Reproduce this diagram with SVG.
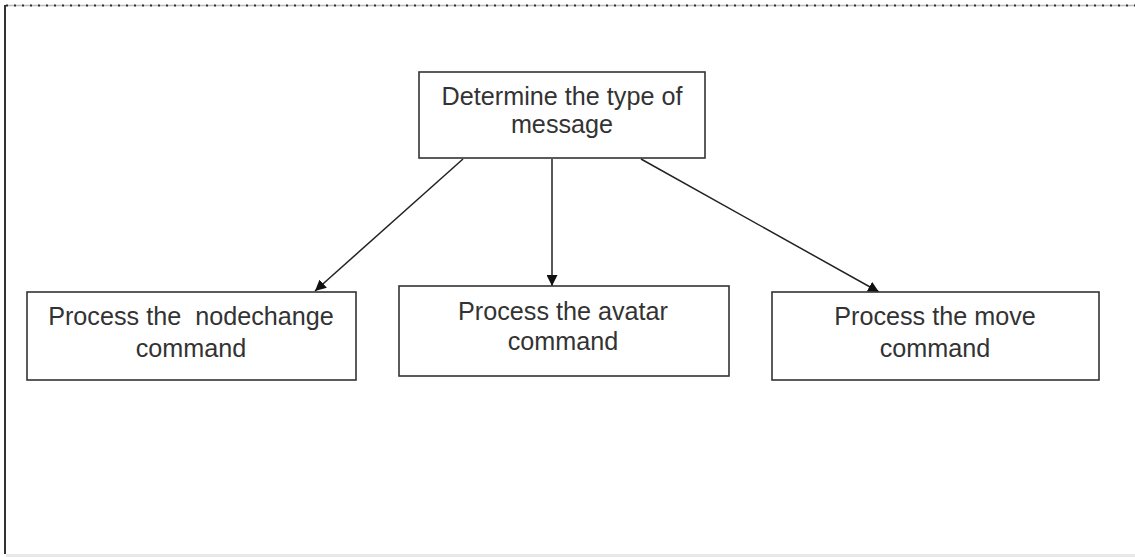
<svg xmlns="http://www.w3.org/2000/svg" width="1135" height="557" viewBox="0 0 1135 557">
  <defs>
    <marker id="arrow" viewBox="0 0 10 10" refX="10" refY="5" markerWidth="11" markerHeight="11" markerUnits="userSpaceOnUse" orient="auto">
      <path d="M0,0 L10,5 L0,10 z" fill="#111"/>
    </marker>
  </defs>
  <style>
    .box { fill: #fff; stroke: #333; stroke-width: 1.6; }
    .lbl { font-family: "Liberation Sans", Arial, sans-serif; font-size: 25.2px; fill: #333; text-anchor: middle; }
    .conn { stroke: #222; stroke-width: 1.5; fill: none; marker-end: url(#arrow); }
  </style>

  <rect width="1135" height="557" fill="#fff"/>

  <!-- page frame -->
  <g id="frame">
    <line x1="5" y1="5.5" x2="1135" y2="5.5" stroke="#bbb" stroke-width="1.5"/>
    <line x1="6" y1="5.5" x2="1135" y2="5.5" stroke="#333" stroke-width="2" stroke-dasharray="2 6"/>
    <line x1="5" y1="5" x2="5" y2="554" stroke="#333" stroke-width="2"/>
    <rect x="6" y="554" width="1129" height="3" fill="#e8e8e8"/>
  </g>

  <!-- connectors -->
  <g id="connectors">
    <line class="conn" x1="463" y1="159" x2="315" y2="291"/>
    <line class="conn" x1="552" y1="159" x2="552" y2="286"/>
    <line class="conn" x1="641" y1="159" x2="879" y2="292"/>
  </g>

  <g id="determine">
    <rect class="box" x="419" y="72" width="286" height="86"/>
    <text class="lbl" x="562" y="105">Determine the type of</text>
    <text class="lbl" x="562" y="133">message</text>
  </g>

  <g id="nodechange">
    <rect class="box" x="27" y="292" width="329" height="88"/>
    <text class="lbl" x="191" y="325" xml:space="preserve">Process the  nodechange</text>
    <text class="lbl" x="191" y="357">command</text>
  </g>

  <g id="avatar">
    <rect class="box" x="399" y="286" width="330" height="90"/>
    <text class="lbl" x="563" y="320">Process the avatar</text>
    <text class="lbl" x="563" y="350">command</text>
  </g>

  <g id="move">
    <rect class="box" x="772" y="292" width="327" height="88"/>
    <text class="lbl" x="935" y="325">Process the move</text>
    <text class="lbl" x="935" y="357">command</text>
  </g>
</svg>
